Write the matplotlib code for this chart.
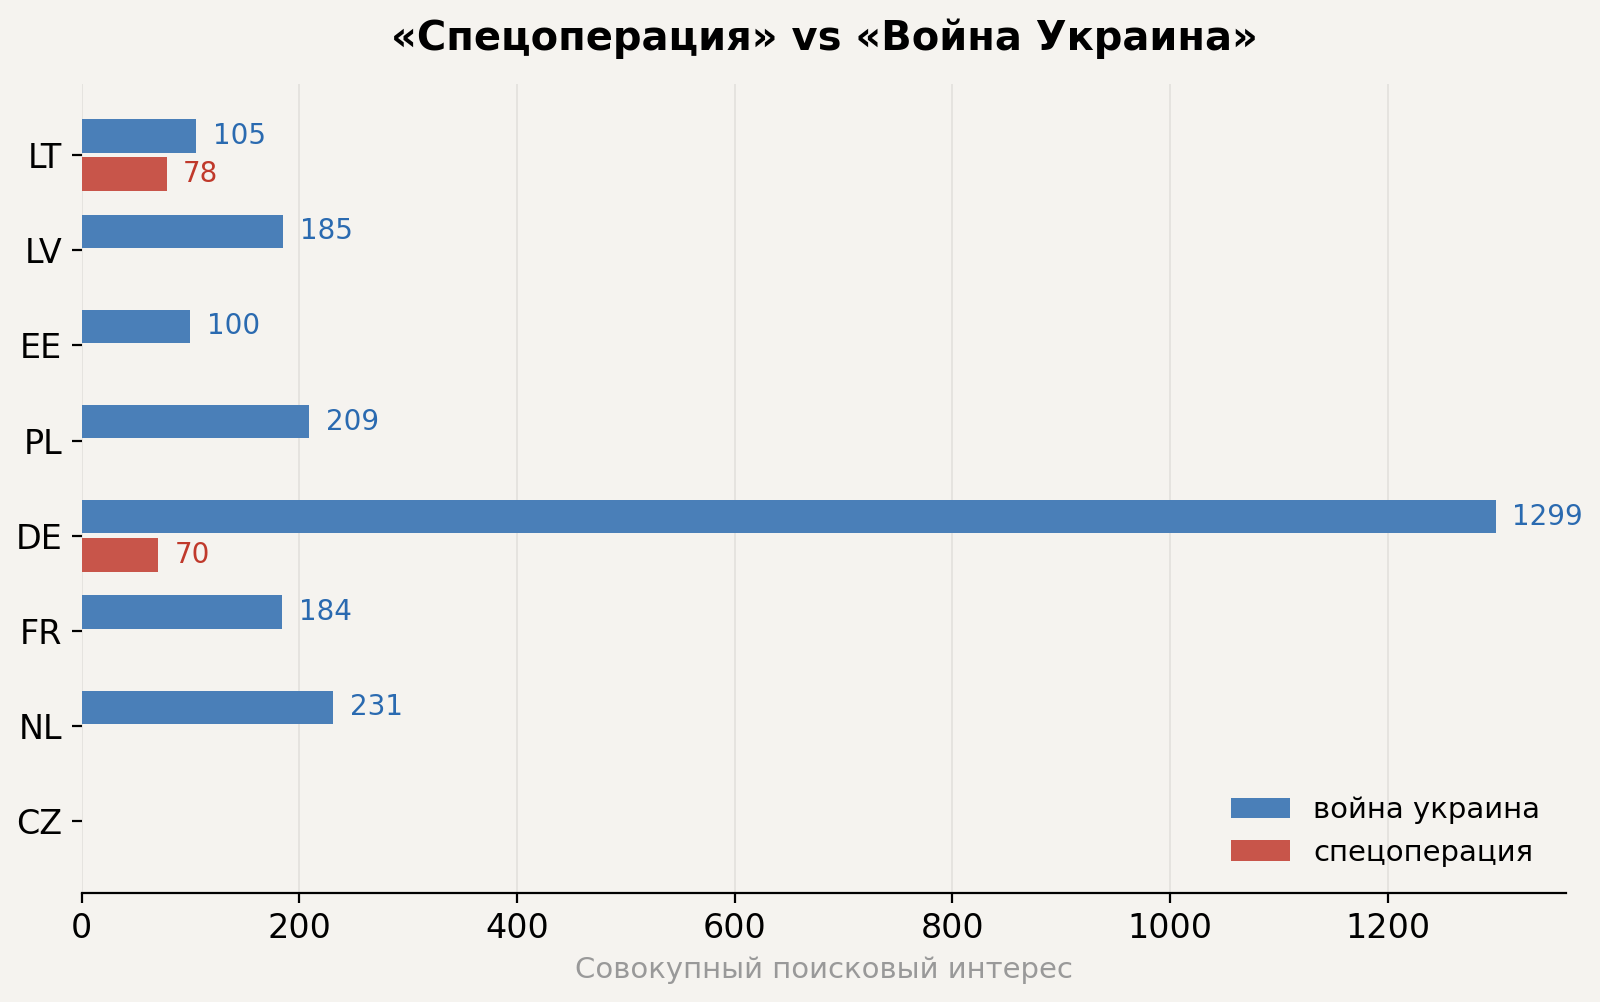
import matplotlib.pyplot as plt
import numpy as np

countries = ["LT", "LV", "EE", "PL", "DE", "FR", "NL", "CZ"]
war_ukraine = [105, 185, 100, 209, 1299, 184, 231, 0]
special_op = [78, 0, 0, 0, 70, 0, 0, 0]

blue = "#4a7fb8"
red = "#c8554a"
bg = "#f5f3ef"

fig, ax = plt.subplots(figsize=(8, 5.01), dpi=200)
fig.patch.set_facecolor(bg)
ax.set_facecolor(bg)

y = np.arange(len(countries))
h = 0.35

ax.barh(y - 0.2, war_ukraine, height=h, color=blue,
        label="война украина", zorder=2)
ax.barh(y + 0.2, special_op, height=h, color=red,
        label="спецоперация", zorder=2)

for i in range(len(countries)):
    if war_ukraine[i] > 0:
        ax.annotate(str(war_ukraine[i]), (war_ukraine[i], y[i] - 0.2),
                    xytext=(6, 0), textcoords="offset points",
                    va="center", ha="left", fontsize=10, color="#2a6ab0")
    if special_op[i] > 0:
        ax.annotate(str(special_op[i]), (special_op[i], y[i] + 0.2),
                    xytext=(6, 0), textcoords="offset points",
                    va="center", ha="left", fontsize=10, color="#c0392b")

ax.set_yticks(y)
ax.set_yticklabels(countries, fontsize=12)
ax.set_ylim(len(countries) - 0.25, -0.75)
ax.set_xlim(0, max(war_ukraine) * 1.05)
ax.tick_params(axis="x", labelsize=12)

ax.grid(axis="x", color="#e2e0dc", linewidth=0.6, zorder=0)
for s in ["top", "right", "left"]:
    ax.spines[s].set_visible(False)

ax.set_xlabel("Совокупный поисковый интерес", fontsize=10.5, color="#999999")
ax.set_title("«Спецоперация» vs «Война Украина»", fontsize=14.4,
             fontweight="bold", pad=12)

ax.legend(loc="lower right", frameon=False, fontsize=10.5)

plt.subplots_adjust(left=0.051, right=0.979, top=0.9165, bottom=0.109)
plt.savefig("out.png", dpi=200, facecolor=bg)
